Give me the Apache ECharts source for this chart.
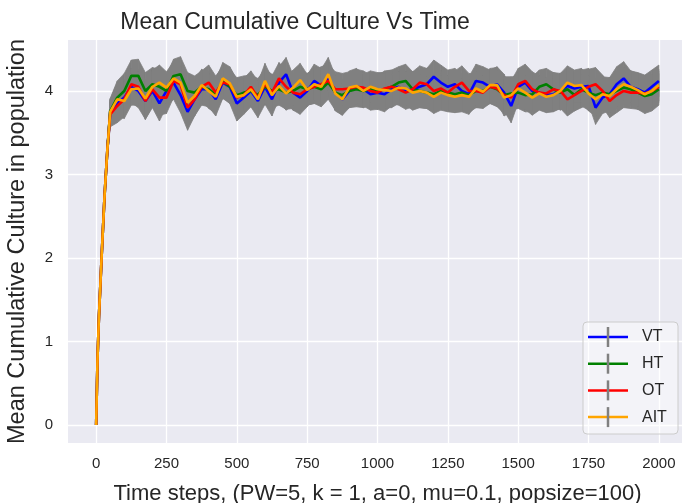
<!DOCTYPE html>
<html>
<head>
<meta charset="utf-8">
<script src="https://cdn.jsdelivr.net/npm/echarts@6/dist/echarts.min.js"></script>
<style>
  html, body { margin: 0; padding: 0; background: #ffffff; }
  #chart { width: 682px; height: 503px; }
</style>
</head>
<body>
<div id="chart"></div>
<script>
// Time steps at which the population means were recorded
const steps = [0, 5, 10, 20, 30, 40, 50,
  75, 100, 125, 150, 175, 200, 225, 250, 275, 300,
  325, 350, 375, 400, 425, 450, 475, 500, 525, 550,
  575, 600, 625, 650, 675, 700, 725, 750, 775, 800,
  825, 850, 875, 900, 925, 950, 975, 1000, 1025, 1050,
  1075, 1100, 1125, 1150, 1175, 1200, 1225, 1250, 1275, 1300,
  1325, 1350, 1375, 1400, 1425, 1450, 1475, 1500, 1525, 1550,
  1575, 1600, 1625, 1650, 1675, 1700, 1725, 1750, 1775, 1800,
  1825, 1850, 1875, 1900, 1925, 1950, 1975, 2000];

// Mean cumulative culture per transmission mode
const vt = [0, 0.8, 1.3, 2.05, 2.75, 3.3, 3.74,
  3.85, 3.92, 4.05, 4.00, 3.88, 4.00, 3.85, 4.00, 4.10, 3.95,
  3.75, 3.90, 4.02, 4.02, 3.90, 4.10, 4.05, 3.85, 3.92, 4.00,
  3.88, 4.05, 3.90, 4.10, 4.20, 3.98, 3.92, 4.00, 4.12, 4.06,
  4.15, 3.98, 3.90, 4.00, 4.04, 4.02, 3.96, 3.98, 3.96, 4.02,
  4.05, 4.00, 4.02, 4.05, 4.08, 4.17, 4.10, 4.05, 4.08, 4.00,
  3.96, 4.12, 4.10, 4.05, 4.08, 3.98, 3.82, 4.05, 4.10, 4.00,
  3.98, 3.95, 3.96, 4.00, 4.06, 4.03, 4.05, 4.06, 3.80, 3.92,
  3.96, 4.08, 4.15, 4.05, 4.02, 3.98, 4.05, 4.12];

const ht = [0, 0.8, 1.3, 2.05, 2.75, 3.3, 3.76,
  3.92, 4.00, 4.18, 4.18, 4.00, 4.08, 4.05, 4.00, 4.18, 4.20,
  4.00, 3.98, 4.05, 4.02, 3.96, 4.12, 4.05, 3.95, 3.98, 4.00,
  3.95, 4.05, 4.00, 4.02, 3.98, 4.00, 4.05, 4.02, 4.05, 4.02,
  4.10, 3.98, 3.95, 4.00, 4.02, 4.00, 4.02, 4.00, 4.02, 4.05,
  4.10, 4.12, 4.02, 4.00, 3.98, 3.96, 4.00, 3.98, 3.96, 3.98,
  3.95, 4.00, 4.00, 4.05, 4.02, 3.95, 3.97, 3.98, 3.95, 3.96,
  4.05, 4.08, 4.02, 3.98, 4.02, 3.95, 4.02, 3.98, 3.95, 3.98,
  3.96, 4.00, 4.04, 4.02, 3.98, 3.94, 3.96, 4.02];

const ot = [0, 0.8, 1.3, 2.05, 2.75, 3.3, 3.72,
  3.82, 3.90, 4.08, 4.05, 3.88, 4.02, 3.92, 3.92, 4.12, 4.08,
  3.80, 3.90, 4.05, 4.10, 3.98, 4.10, 4.08, 3.92, 3.95, 4.05,
  3.92, 4.08, 3.98, 4.15, 4.05, 3.98, 3.96, 4.02, 4.05, 4.08,
  4.12, 4.02, 4.02, 4.03, 4.05, 4.04, 4.00, 3.98, 4.03, 4.05,
  4.02, 3.98, 4.02, 4.10, 4.08, 4.00, 4.03, 3.98, 4.05, 4.10,
  4.00, 4.00, 3.98, 4.05, 4.03, 3.95, 3.92, 4.08, 4.12, 4.02,
  3.98, 3.97, 4.02, 4.00, 3.90, 3.95, 4.00, 4.05, 4.08, 4.00,
  3.88, 3.95, 4.00, 3.98, 3.98, 3.97, 4.00, 4.05];

const ait = [0, 0.8, 1.3, 2.05, 2.75, 3.3, 3.75,
  3.90, 3.88, 4.02, 4.03, 3.91, 4.05, 4.10, 4.04, 4.15, 4.10,
  3.86, 3.94, 4.07, 4.00, 3.93, 4.15, 4.09, 3.93, 3.95, 4.02,
  3.90, 4.12, 3.95, 4.06, 3.97, 4.04, 4.13, 4.01, 4.08, 4.05,
  4.20, 3.97, 3.90, 4.04, 4.06, 4.00, 4.05, 4.02, 4.01, 4.00,
  4.04, 4.03, 3.98, 4.00, 3.98, 3.93, 3.98, 3.95, 3.93, 3.95,
  3.93, 4.03, 3.99, 4.07, 4.07, 3.92, 3.95, 4.03, 3.98, 3.92,
  3.97, 3.93, 3.95, 4.00, 4.10, 4.06, 4.07, 3.97, 3.90, 3.96,
  3.94, 4.02, 4.08, 4.05, 4.01, 3.96, 4.00, 4.07];

// Half-width of the error bars (standard deviation across runs)
const spread = [0, 0.03, 0.05, 0.07, 0.09, 0.11, 0.15,
  0.20, 0.21, 0.19, 0.20, 0.22, 0.20, 0.21, 0.19, 0.20, 0.21,
  0.22, 0.20, 0.19, 0.21, 0.20, 0.19, 0.20, 0.21, 0.20, 0.19,
  0.20, 0.21, 0.20, 0.19, 0.20, 0.21, 0.20, 0.19, 0.20, 0.21,
  0.20, 0.21, 0.19, 0.20, 0.21, 0.20, 0.19, 0.20, 0.21, 0.20,
  0.19, 0.20, 0.21, 0.20, 0.19, 0.20, 0.21, 0.20, 0.19, 0.20,
  0.21, 0.20, 0.19, 0.20, 0.21, 0.22, 0.20, 0.19, 0.20, 0.21,
  0.20, 0.19, 0.20, 0.21, 0.20, 0.19, 0.20, 0.21, 0.20, 0.19,
  0.20, 0.21, 0.20, 0.19, 0.20, 0.21, 0.20, 0.19];

const xTicks = [0, 250, 500, 750, 1000, 1250, 1500, 1750, 2000];
const yTicks = [0, 1, 2, 3, 4];

const modes = [
  { name: 'VT', values: vt, color: '#0000ff' },
  { name: 'HT', values: ht, color: '#008000' },
  { name: 'OT', values: ot, color: '#ff0000' },
  { name: 'AIT', values: ait, color: '#ffa500' }
];

const FONT = '"Liberation Sans", Arial, sans-serif';
const TEXT = '#262626';
const ERR = '#808080';

const series = [];
// error band of each mode: mean ± sd, drawn as quads between recorded steps
modes.forEach((m) => {
  series.push({
    type: 'custom', silent: true, z: 1, clip: true,
    data: steps.map((t, i) => [t, m.values[i] - spread[i], m.values[i] + spread[i]]),
    encode: { x: 0, y: [1, 2] },
    renderItem: (params, api) => {
      const i = params.dataIndex;
      if (i >= steps.length - 1) return null;
      const p0 = api.coord([steps[i], m.values[i] + spread[i]]);
      const p1 = api.coord([steps[i + 1], m.values[i + 1] + spread[i + 1]]);
      const p2 = api.coord([steps[i + 1], m.values[i + 1] - spread[i + 1]]);
      const p3 = api.coord([steps[i], m.values[i] - spread[i]]);
      return {
        type: 'polygon',
        shape: { points: [p0, p1, p2, p3] },
        style: { fill: ERR, stroke: ERR, lineWidth: 0.8 }
      };
    }
  });
});
modes.forEach((m) => {
  series.push({
    name: m.name, type: 'line', showSymbol: false, z: 3,
    lineStyle: { color: m.color, width: 2.6 },
    itemStyle: { color: m.color },
    data: steps.map((t, i) => [t, m.values[i]])
  });
});

// legend: coloured line crossed by a grey error tick
const legendItems = [];
modes.forEach((m, i) => {
  const y = 337 + i * 26.7;
  legendItems.push({ type: 'line', shape: { x1: 588, y1: y, x2: 628, y2: y },
    style: { stroke: m.color, lineWidth: 2.5 }, z: 101 });
  legendItems.push({ type: 'line', shape: { x1: 608, y1: y - 10, x2: 608, y2: y + 10 },
    style: { stroke: ERR, lineWidth: 2.5 }, z: 101 });
  legendItems.push({ type: 'text', x: 642, y: y, z: 101,
    style: { text: m.name, font: '16px ' + FONT, fill: TEXT, textVerticalAlign: 'middle' } });
});

const chart = echarts.init(document.getElementById('chart'), null, { renderer: 'canvas' });
chart.setOption({
  animation: false,
  backgroundColor: '#ffffff',
  title: {
    text: 'Mean Cumulative Culture Vs Time',
    left: 290, top: 6, textAlign: 'center',
    textStyle: { fontFamily: FONT, fontSize: 23, fontWeight: 'normal', color: TEXT }
  },
  grid: { left: 68, top: 40, right: -5, bottom: 60, show: true,
    outerBoundsMode: 'none', containLabel: false,
    backgroundColor: '#eaeaf2', borderWidth: 0 },
  xAxis: {
    type: 'value', min: -100, max: 2100,
    name: 'Time steps, (PW=5, k = 1, a=0, mu=0.1, popsize=100)',
    nameLocation: 'middle', nameGap: 40,
    nameTextStyle: { fontFamily: FONT, fontSize: 22, color: TEXT },
    axisLine: { show: false }, axisTick: { show: false, customValues: xTicks },
    axisLabel: { customValues: xTicks, formatter: (v) => String(v),
      fontFamily: FONT, fontSize: 15, color: TEXT, margin: 13 },
    splitLine: { show: true, lineStyle: { color: '#ffffff', width: 1.3 } }
  },
  yAxis: {
    type: 'value', min: -0.2156, max: 4.61,
    name: 'Mean Cumulative Culture in population',
    nameLocation: 'middle', nameGap: 38,
    nameTextStyle: { fontFamily: FONT, fontSize: 23.5, color: TEXT },
    axisLine: { show: false }, axisTick: { show: false, customValues: yTicks },
    axisLabel: { customValues: yTicks, fontFamily: FONT, fontSize: 15, color: TEXT, margin: 15 },
    splitLine: { show: true, lineStyle: { color: '#ffffff', width: 1.3 } }
  },
  series: series,
  graphic: [
    { type: 'rect', shape: { x: 583, y: 322, width: 95, height: 112, r: 4 }, z: 100,
      style: { fill: 'rgba(255,255,255,0.45)', stroke: '#cccccc', lineWidth: 1 } }
  ].concat(legendItems)
});
</script>
</body>
</html>
